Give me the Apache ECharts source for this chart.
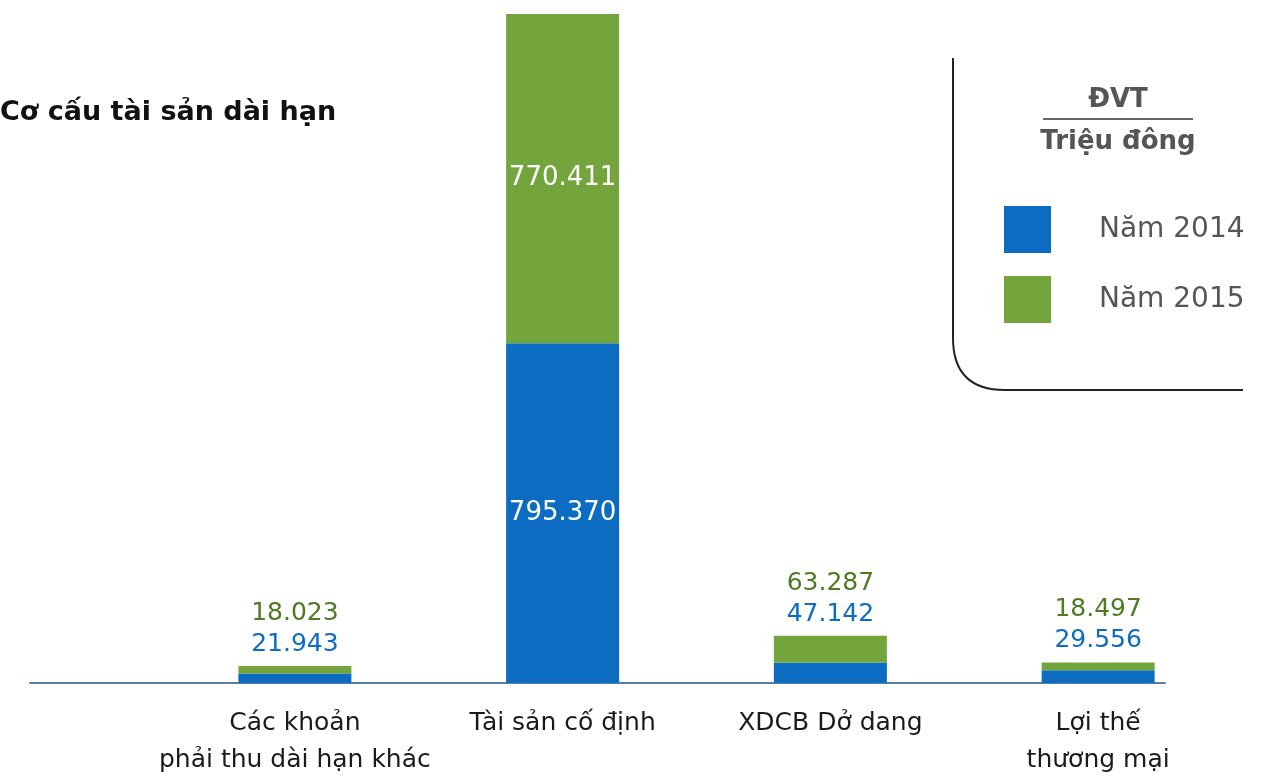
<!DOCTYPE html>
<html>
<head>
<meta charset="utf-8">
<script src="https://cdn.jsdelivr.net/npm/echarts@6/dist/echarts.min.js"></script>
<style>
  html, body { margin: 0; padding: 0; background: #fff; }
  #chart { width: 1271px; height: 781px; }
</style>
</head>
<body>
<div id="chart"></div>
<script>
// data (ĐVT: triệu đồng)
const categories = ["Các khoản\nphải thu dài hạn khác", "Tài sản cố định", "XDCB Dở dang", "Lợi thế\nthương mại"];
const values2014 = [21.943, 795.37, 47.142, 29.556];
const values2015 = [18.023, 770.411, 63.287, 18.497];
const seriesNames = ["Năm 2014", "Năm 2015"];

const BLUE = "#0b6cc2";
const GREEN = "#73a53c";
const FONT = "DejaVu Sans";

const fmt = (v) => v.toFixed(3);
const totals = values2014.map((v, i) => v + values2015[i]);
const yMax = Math.max(...totals);
// segments tall enough to hold their label inside
const fitsInside = (v) => v / yMax > 0.08;

const blueData = values2014.map((v) => ({
  value: v,
  label: { show: fitsInside(v) },
}));

const greenData = values2015.map((v, i) => {
  if (fitsInside(v)) {
    return { value: v, label: { show: true, position: "inside" } };
  }
  // short stacks: both numbers above the bar, top line = 2015, bottom = 2014
  return {
    value: v,
    label: {
      show: true,
      position: "top",
      distance: 6,
      formatter: "{g|" + fmt(v) + "}\n{b|" + fmt(values2014[i]) + "}",
      rich: {
        g: { color: "#4f7a22", fontSize: 25, fontFamily: FONT, lineHeight: 31 },
        b: { color: BLUE, fontSize: 25, fontFamily: FONT, lineHeight: 31 },
      },
    },
  };
});

const myChart = echarts.init(document.getElementById("chart"));

myChart.setOption({
  animation: false,
  title: {
    text: "Cơ cấu tài sản dài hạn",
    left: -5,
    top: 94,
    textStyle: { fontFamily: FONT, fontWeight: "bold", fontSize: 27, color: "#111" },
  },
  legend: {
    orient: "vertical",
    left: 999,
    top: 201,
    itemWidth: 47,
    itemHeight: 47,
    itemGap: 23,
    icon: "rect",
    data: seriesNames,
    textStyle: { fontFamily: FONT, fontSize: 28, color: "#555", padding: [0, 0, 0, 43] },
  },
  grid: [
    { left: 161, right: 39, top: 14, bottom: 98 },
    { left: 30, right: 106, top: 14, bottom: 98 },
  ],
  xAxis: [
    {
      type: "category",
      gridIndex: 0,
      data: categories,
      axisLine: { show: false },
      axisTick: { show: false },
      axisLabel: {
        interval: 0,
        margin: 22,
        fontFamily: FONT,
        fontSize: 25,
        lineHeight: 37,
        color: "#1a1a1a",
      },
    },
    {
      type: "value",
      gridIndex: 1,
      min: 0,
      max: 1,
      axisLine: { show: true, lineStyle: { color: "#5b7fa3", width: 2 } },
      axisTick: { show: false },
      axisLabel: { show: false },
      splitLine: { show: false },
    },
  ],
  yAxis: [
    { type: "value", gridIndex: 0, min: 0, max: yMax, show: false },
    { type: "value", gridIndex: 1, min: 0, max: 1, show: false },
  ],
  series: [
    {
      name: seriesNames[0],
      type: "bar",
      stack: "total",
      barWidth: 113,
      itemStyle: { color: BLUE },
      label: {
        position: "inside",
        color: "#fff",
        fontFamily: FONT,
        fontSize: 26,
        formatter: (p) => fmt(p.value),
      },
      data: blueData,
      z: 3,
    },
    {
      name: seriesNames[1],
      type: "bar",
      stack: "total",
      barWidth: 113,
      itemStyle: { color: GREEN },
      label: {
        position: "inside",
        color: "#fff",
        fontFamily: FONT,
        fontSize: 26,
        formatter: (p) => fmt(p.value),
      },
      data: greenData,
      z: 3,
    },
  ],
  graphic: [
    // legend frame: left edge, rounded corner, bottom edge
    {
      type: "line",
      shape: { x1: 953, y1: 58, x2: 953, y2: 338 },
      style: { stroke: "#222", lineWidth: 2 },
    },
    {
      type: "bezierCurve",
      shape: { x1: 953, y1: 338, cpx1: 953, cpy1: 390, x2: 1005, y2: 390 },
      style: { stroke: "#222", lineWidth: 2, fill: null },
    },
    {
      type: "line",
      shape: { x1: 1005, y1: 390, x2: 1243, y2: 390 },
      style: { stroke: "#222", lineWidth: 2 },
    },
    {
      type: "text",
      x: 1118,
      y: 100,
      style: {
        text: "ĐVT",
        fontFamily: FONT,
        fontWeight: "bold",
        fontSize: 26,
        fill: "#555",
        align: "center",
        verticalAlign: "middle",
      },
    },
    {
      type: "line",
      shape: { x1: 1043, y1: 119, x2: 1193, y2: 119 },
      style: { stroke: "#333", lineWidth: 1.5 },
    },
    {
      type: "text",
      x: 1118,
      y: 142,
      style: {
        text: "Triệu đông",
        fontFamily: FONT,
        fontWeight: "bold",
        fontSize: 26,
        fill: "#555",
        align: "center",
        verticalAlign: "middle",
      },
    },
  ],
});

window.addEventListener("resize", () => myChart.resize());
</script>
</body>
</html>
